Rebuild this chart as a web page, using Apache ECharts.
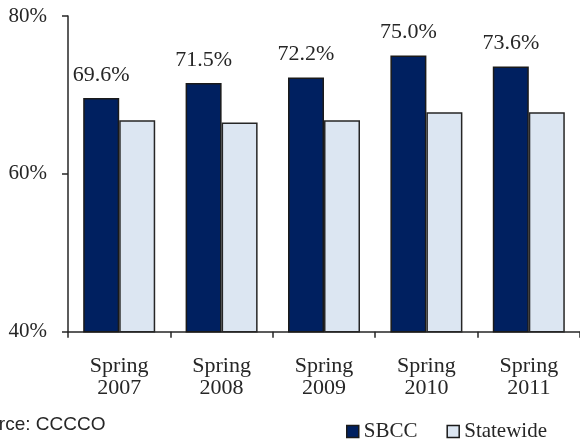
<!DOCTYPE html>
<html><head><meta charset="utf-8">
<script src="https://cdn.jsdelivr.net/npm/echarts@6/dist/echarts.min.js"></script>
<style>html,body{margin:0;padding:0;background:#fff}#c{width:580px;height:446px}</style>
</head><body><div id="c"></div>
<script>
const categories = ['Spring\n2007','Spring\n2008','Spring\n2009','Spring\n2010','Spring\n2011'];
const sbcc = [69.6, 71.5, 72.2, 75.0, 73.6];
const statewide = [66.8, 66.5, 66.8, 67.8, 67.8];
const yTicks = [40, 60, 80];

const chart = echarts.init(document.getElementById('c'), null, {renderer:'canvas'});
const serif = 'Liberation Serif';
chart.setOption({
  animation:false,
  backgroundColor:'#fff',
  title:{text:'Source: CCCCO', left:-35, top:415, padding:0, z:20,
    textStyle:{fontFamily:'Liberation Sans', fontSize:19, fontWeight:'normal', color:'#262626'}},
  grid:{left:68, right:-5.5, top:16, bottom:114.3, containLabel:false},
  legend:{
    left:341, top:416, itemWidth:12, itemHeight:12, itemGap:29, z:3,
    itemStyle:{borderColor:'#1a1a1a', borderWidth:1.5},
    textStyle:{fontFamily:serif, fontSize:21, color:'#262626'},
    data:[{name:'SBCC', icon:'rect'},{name:'Statewide', icon:'rect'}]
  },
  xAxis:{
    type:'category', data:categories,
    axisLine:{lineStyle:{color:'#262626', width:1.5}},
    axisTick:{show:true, length:6, lineStyle:{color:'#262626', width:1.5}},
    axisLabel:{fontFamily:serif, fontSize:22, lineHeight:22, color:'#262626', margin:24}
  },
  yAxis:{
    type:'value', min:yTicks[0], max:yTicks[yTicks.length-1], interval:20,
    splitLine:{show:false},
    axisLine:{show:true, lineStyle:{color:'#262626', width:1.5}},
    axisTick:{show:true, length:6, lineStyle:{color:'#262626', width:1.5}},
    axisLabel:{fontFamily:serif, fontSize:21, color:'#262626', margin:21, formatter:'{value}%'}
  },
  series:[
    {name:'SBCC', type:'bar', data:sbcc, barWidth:36, barGap:'0%',
     itemStyle:{color:'#002060', borderColor:'#1a1a1a', borderWidth:1.5},
     label:{show:true, position:'top', distance:12, fontFamily:serif, fontSize:22, color:'#262626',
            formatter:p=>p.value.toFixed(1)+'%'}},
    {name:'Statewide', type:'bar', data:statewide, barWidth:36,
     itemStyle:{color:'#DCE6F2', borderColor:'#262626', borderWidth:1.5}}
  ]
});
</script></body></html>
